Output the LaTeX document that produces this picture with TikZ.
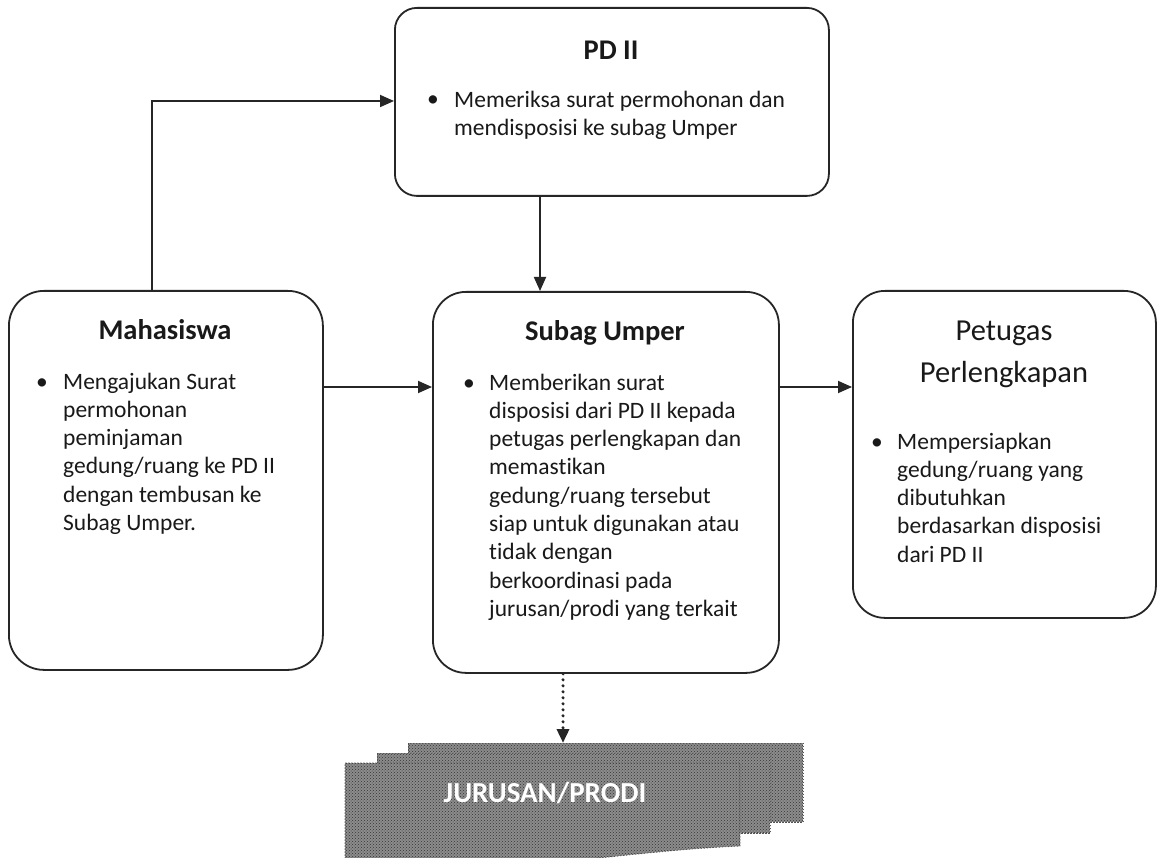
\documentclass[tikz,border=0pt]{standalone}
\usepackage{fontspec}
\setmainfont{Carlito}[Ligatures={NoCommon}]
\usetikzlibrary{arrows.meta,patterns}
\begin{document}
\begin{tikzpicture}[x=1pt,y=-1pt,
  box/.style={draw=black!85, line width=1.8pt, rounded corners=#1, inner sep=0pt, anchor=north west},
  ttl/.style={font=\fontsize{28.5}{34}\selectfont\bfseries, anchor=base, inner sep=0pt, text=black!90},
  ttlr/.style={font=\fontsize{30.5}{36}\selectfont, anchor=base, inner sep=0pt, text=black!90},
  body/.style={font=\fontsize{23.5}{28.3}\selectfont, align=left, anchor=north west, inner sep=0pt, text=black!90},
  bul/.style={font=\fontsize{23.5}{28.3}\selectfont, anchor=base, inner sep=0pt, text=black!90},
  arr/.style={-{Triangle[length=14pt,width=12pt]}, line width=1.8pt, draw=black!85},
  dotarr/.style={-{Triangle[length=14pt,width=12pt]}, line width=3.4pt, draw=black!85,
                 line cap=round, dash pattern=on 0pt off 6pt},
  docfill/.style={fill=black!45, draw=black!65, line width=0.9pt, dash pattern=on 1.5pt off 1.5pt},
  docdots/.style={pattern=crosshatch dots, pattern color=black!80}
]
\useasboundingbox (0,0) rectangle (1158,858);
\fill[white] (0,0) rectangle (1158,858);

% boxes
\node[box=35pt, minimum width=314pt, minimum height=379pt] (mah) at (8,290) {};
\node[box=22pt, minimum width=434pt, minimum height=188pt] (pd)  at (394,7) {};
\node[box=33pt, minimum width=346pt, minimum height=381pt] (sub) at (432,291) {};
\node[box=32pt, minimum width=303pt, minimum height=327pt] (pet) at (852,290) {};

% Mahasiswa
\node[ttl] (mahT) at (165,339) {Mahasiswa};
\node[bul] (mahD) at (42,389) {•};
\node[body] (mahB) at (63,372.5) {Mengajukan Surat\\permohonan\\peminjaman\\gedung/ruang ke PD II\\dengan tembusan ke\\Subag Umper.};

% PD II
\node[ttl] (pdT) at (611,60) {PD II};
\node[bul] (pdD) at (433,107) {•};
\node[body] (pdB) at (454,90.5) {Memeriksa surat permohonan dan\\mendisposisi ke subag Umper};

% Subag Umper
\node[ttl] (subT) at (605,340) {Subag Umper};
\node[bul] (subD) at (469,390) {•};
\node[body] (subB) at (489,373.5) {Memberikan surat\\disposisi dari PD II kepada\\petugas perlengkapan dan\\memastikan\\gedung/ruang tersebut\\siap untuk digunakan atau\\tidak dengan\\berkoordinasi pada\\jurusan/prodi yang terkait};

% Petugas Perlengkapan
\node[ttlr] (petT1) at (1004,340) {Petugas};
\node[ttlr] (petT2) at (1004,382) {Perlengkapan};
\node[bul] (petD) at (877,449) {•};
\node[body] (petB) at (897,432.5) {Mempersiapkan\\gedung/ruang yang\\dibutuhkan\\berdasarkan disposisi\\dari PD II};

% stacked documents
\begin{scope}
\clip (0,0) rectangle (1158,858);
\path[docfill] (408,743) rectangle (803,822);
\path[docdots] (408,743) rectangle (803,822);
\path[docfill] (377,753) rectangle (770,833);
\path[docdots] (377,753) rectangle (770,833);
\path[docfill] (345,763) -- (740,763) -- (740,846) .. controls (650,850) and (560,864) .. (345,884) -- cycle;
\path[docdots] (345,763) -- (740,763) -- (740,846) .. controls (650,850) and (560,864) .. (345,884) -- cycle;
\end{scope}
\node[font=\fontsize{29}{34}\selectfont\bfseries, text=white, anchor=base, inner sep=0pt] (jur) at (545,802) {JURUSAN/PRODI};
\coordinate (jtop) at (563,743);

% connectors
\coordinate (up) at (152,101);
\coordinate (dn) at (540,0);
\coordinate (mid) at (0,387);
\coordinate (dt) at (563,0);
\draw[arr] (mah.north -| up) |- (pd.west |- up);
\draw[arr] (pd.south -| dn) -- (sub.north -| dn);
\draw[arr] (mah.east |- mid) -- (sub.west |- mid);
\draw[arr] (sub.east |- mid) -- (pet.west |- mid);
\draw[dotarr] (sub.south -| dt) -- (jtop);
\end{tikzpicture}
\end{document}
